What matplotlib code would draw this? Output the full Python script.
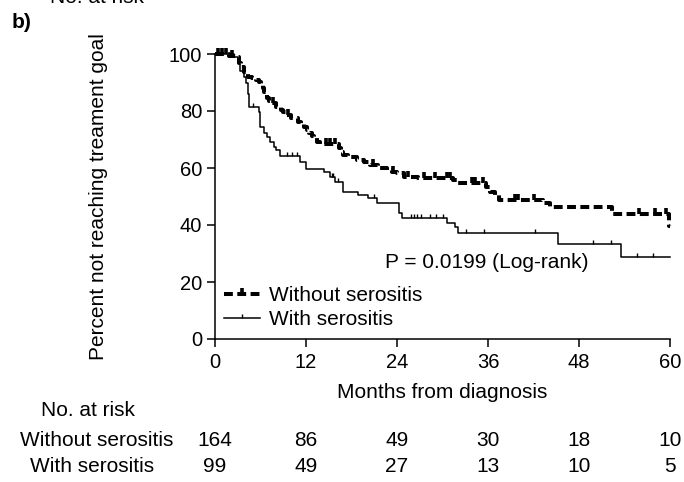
import numpy as np
import matplotlib
matplotlib.use("Agg")
import matplotlib.pyplot as plt
from matplotlib.path import Path
from matplotlib.lines import Line2D

plt.rcParams['font.family'] = ['Liberation Sans', 'DejaVu Sans']

# Kaplan-Meier steps: event times (months) and percent remaining after each event
without_times = [1.8, 2.8, 3.1, 3.4, 3.8, 4.3, 4.9, 5.4, 5.8, 6.0, 6.3, 6.5, 6.7,
                 6.9, 7.1, 7.3, 8.0, 8.7, 9.0, 9.3, 10.0, 10.9, 11.3, 11.7, 12.1,
                 12.4, 12.8, 13.1, 13.5, 13.9, 16.3, 16.6, 16.9, 17.6, 18.7, 19.6,
                 20.4, 21.5, 22.7, 23.3, 24.0, 24.9, 26.8, 31.4, 31.9, 35.8, 36.3,
                 36.9, 37.4, 43.3, 44.2, 52.3, 52.5, 59.9]
without_surv = [99.4, 98.8, 97.0, 95.5, 93.8, 92.0, 91.5, 90.9, 90.2, 89.1, 88.0,
                86.8, 85.6, 84.4, 83.5, 82.7, 81.5, 80.4, 79.6, 78.6, 77.4, 76.2,
                75.3, 74.5, 73.3, 72.2, 71.3, 70.4, 69.2, 68.3, 66.9, 65.7, 64.6,
                64.0, 62.8, 62.2, 61.0, 59.9, 59.3, 58.7, 58.1, 57.0, 56.4, 55.8,
                54.6, 53.4, 51.7, 50.5, 48.8, 47.6, 46.4, 45.0, 43.8, 39.5]
without_censor = [0.4, 0.9, 1.4, 2.2, 7.6, 9.6, 14.6, 15.2, 15.8, 20.8, 23.5, 25.4,
                  27.5, 29.0, 30.6, 31.0, 33.9, 34.3, 35.4, 39.6, 40.0, 42.0, 55.9,
                  58.0, 59.5]

with_times = [2.5, 3.0, 3.3, 3.8, 4.1, 4.3, 4.5, 5.8, 5.95, 6.5, 6.9, 7.3, 7.8,
              8.1, 8.6, 11.2, 12.0, 14.4, 15.2, 15.8, 16.9, 18.9, 20.2, 21.3, 24.2,
              24.6, 30.6, 31.6, 32.1, 45.2, 53.5]
with_surv = [99.0, 97.0, 94.0, 92.0, 90.0, 86.0, 81.5, 79.5, 74.5, 72.3, 71.0,
             69.0, 67.5, 66.3, 64.2, 62.0, 59.8, 58.7, 57.0, 55.2, 51.7, 50.5,
             49.4, 47.6, 44.1, 42.3, 40.8, 39.3, 37.2, 33.3, 28.6]
with_censor = [5.0, 9.5, 10.2, 10.8, 15.4, 15.6, 16.2, 21.0, 25.8, 26.2, 26.6,
               27.1, 28.3, 29.2, 30.0, 33.1, 35.5, 42.2, 49.8, 52.2, 55.6, 57.8]

risk_times = [0, 12, 24, 36, 48, 60]
risk_without = [164, 86, 49, 30, 18, 10]
risk_with = [99, 49, 27, 13, 10, 5]

x_end = 60
fs = 15
tick_mark = Path([(0, 0), (0, 1)])


def km_arrays(times, surv, end):
    t = np.concatenate([[0], times, [end]])
    s = np.concatenate([[100], surv, [surv[-1]]])
    return t, s


def surv_at(t, s, c):
    idx = np.searchsorted(t, c, side='right') - 1
    return s[idx]


fig = plt.figure(figsize=(6.84, 4.82), dpi=100)
ax = fig.add_axes([215 / 684, 1 - 339 / 482, 455 / 684, 285 / 482])

dash = (2.2, 1.1)

t1, s1 = km_arrays(without_times, without_surv, x_end)
ax.step(t1, s1, where='post', color='black', lw=2.9, dashes=dash, clip_on=False)
c1 = np.array(without_censor)
ax.plot(c1, surv_at(t1, s1, c1), ls='none', marker=tick_mark, markersize=8,
        mew=2.6, color='black', clip_on=False)

t2, s2 = km_arrays(with_times, with_surv, x_end)
ax.step(t2, s2, where='post', color='black', lw=1.1, clip_on=False)
c2 = np.array(with_censor)
ax.plot(c2, surv_at(t2, s2, c2), ls='none', marker=tick_mark, markersize=6,
        mew=1.0, color='black', clip_on=False)

ax.set_xlim(0, 60)
ax.set_ylim(0, 100)
ax.set_xticks(risk_times)
ax.set_yticks([0, 20, 40, 60, 80, 100])
for side in ['top', 'right']:
    ax.spines[side].set_visible(False)
for side in ['left', 'bottom']:
    ax.spines[side].set_linewidth(1.1)
ax.tick_params(direction='out', length=5.8, width=1.1, labelsize=14.5)
ax.tick_params(axis='x', pad=4.5)
ax.tick_params(axis='y', pad=3.5)

ax.set_xlabel("Months from diagnosis", fontsize=fs, labelpad=8)
ax.set_ylabel("Percent not reaching treament goal", fontsize=fs)
ax.yaxis.set_label_coords(-0.235, 0.5)

ax.text(22.4, 27, "P = 0.0199 (Log-rank)", fontsize=fs, ha='left', va='center')

handles = [
    Line2D([], [], color='black', lw=2.9, dashes=dash, marker=tick_mark,
           markersize=8, mew=2.6),
    Line2D([], [], color='black', lw=1.1, marker=tick_mark, markersize=6, mew=1.0),
]
ax.legend(handles, ["Without serositis", "With serositis"], loc='lower left',
          bbox_to_anchor=(0.02, 0.035), frameon=False, fontsize=fs,
          handlelength=1.7, handletextpad=0.45, labelspacing=0.25, borderpad=0,
          borderaxespad=0, numpoints=1)

# number at risk table
fig.text(88 / 684, 1 - 410 / 482, "No. at risk", fontsize=fs, ha='center', va='center')
fig.text(97 / 684, 1 - 440 / 482, "Without serositis", fontsize=fs, ha='center', va='center')
fig.text(92 / 684, 1 - 467 / 482, "With serositis", fontsize=fs, ha='center', va='center')
for t, a, b in zip(risk_times, risk_without, risk_with):
    xf = ax.transData.transform((t, 0))[0] / fig.bbox.width
    fig.text(xf, 1 - 440 / 482, str(a), fontsize=fs, ha='center', va='center')
    fig.text(xf, 1 - 467 / 482, str(b), fontsize=fs, ha='center', va='center')

fig.text(12 / 684, 1 - 22 / 482, "b)", fontsize=fs, fontweight='bold', ha='left', va='center')
fig.text(50 / 684, 1 - 3 / 482, "No. at risk", fontsize=fs, ha='left', va='baseline')

fig.savefig("out.png", dpi=100)
